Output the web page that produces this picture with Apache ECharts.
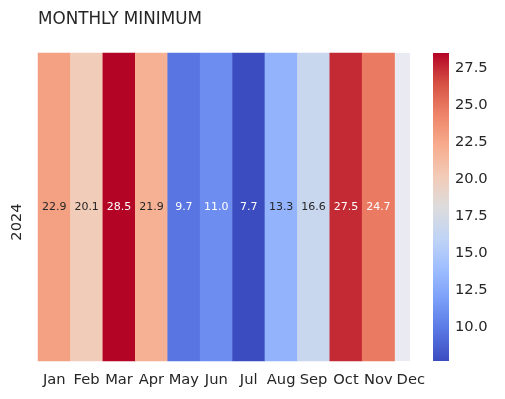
<!DOCTYPE html>
<html><head><meta charset="utf-8">
<script src="https://cdn.jsdelivr.net/npm/echarts@6/dist/echarts.min.js"></script>
<style>html,body{margin:0;padding:0;background:#fff}#c{width:505px;height:399px}</style>
</head><body><div id="c"></div>
<script>
const months = ['Jan','Feb','Mar','Apr','May','Jun','Jul','Aug','Sep','Oct','Nov','Dec'];
const years = ['2024'];
const values = [22.9, 20.1, 28.5, 21.9, 9.7, 11.0, 7.7, 13.3, 16.6, 27.5, 24.7, null];
const vMin = 7.7, vMax = 28.5;
const cbTicks = [10.0, 12.5, 15.0, 17.5, 20.0, 22.5, 25.0, 27.5];
const titleText = 'MONTHLY MINIMUM';

const coolwarm = ['#3b4cc0','#5977e3','#7b9ff9','#9ebeff','#c0d4f5','#dddcdc','#f2cbb7','#f7ac8e','#ee8468','#d65244','#b40426'];
function hex2rgb(h){return [1,3,5].map(i=>parseInt(h.substr(i,2),16));}
function cmap(v){
  let t=(v-vMin)/(vMax-vMin); t=Math.max(0,Math.min(1,t));
  const p=t*(coolwarm.length-1), i=Math.min(Math.floor(p),coolwarm.length-2), f=p-i;
  const a=hex2rgb(coolwarm[i]), b=hex2rgb(coolwarm[i+1]);
  return a.map((x,k)=>x+(b[k]-x)*f);
}
function lum(rgb){
  const c=rgb.map(x=>{x/=255;return x<=0.03928?x/12.92:Math.pow((x+0.055)/1.055,2.4);});
  return 0.2126*c[0]+0.7152*c[1]+0.0722*c[2];
}
const FONT='DejaVu Sans', TXT='#262626';
const data = values.map((v,i)=> v==null ? [i,0,'-'] : {
  value:[i,0,v],
  label:{color: lum(cmap(v))>0.408 ? TXT : '#ffffff'}
});

// colorbar gradient (bottom = min, top = max)
const cbStops = coolwarm.map((c,i)=>({offset:1-i/(coolwarm.length-1),color:c}));

const chart = echarts.init(document.getElementById('c'));
chart.setOption({
  animation:false,
  textStyle:{fontFamily:FONT},
  title:{text:titleText,left:38,top:11,padding:0,textStyle:{fontFamily:FONT,fontSize:16.8,fontWeight:'normal',color:TXT}},
  grid:[
    {left:38,top:53,width:389,height:308,show:true,backgroundColor:'#eaeaf2',borderWidth:0},
    {left:433,top:53,width:16,height:308,show:false}
  ],
  xAxis:[
    {type:'category',gridIndex:0,data:months,axisLine:{show:false},axisTick:{show:false},splitLine:{show:false},
     axisLabel:{fontFamily:FONT,fontSize:14.7,color:TXT,margin:12,interval:0}},
    {type:'value',gridIndex:1,show:false,min:0,max:1}
  ],
  yAxis:[
    {type:'category',gridIndex:0,data:years,axisLine:{show:false},axisTick:{show:false},splitLine:{show:false},
     axisLabel:{fontFamily:FONT,fontSize:14.7,color:TXT,rotate:90,margin:13,padding:[0,30,0,0]}},
    {type:'value',gridIndex:1,min:vMin,max:vMax,position:'right',
     axisLine:{show:false},splitLine:{show:false},
     axisTick:{show:true,length:7,lineStyle:{color:TXT,width:1.3},customValues:cbTicks},
     axisLabel:{fontFamily:FONT,fontSize:14.7,color:TXT,margin:6,customValues:cbTicks,formatter:v=>Number(v).toFixed(1)}}
  ],
  visualMap:{type:'continuous',min:vMin,max:vMax,seriesIndex:0,calculable:false,show:false,
    inRange:{color:coolwarm}},
  graphic:[
    {type:'rect',shape:{x:410,y:50,width:20,height:314},style:{fill:'#ffffff'},z:100},
    {type:'rect',shape:{x:433,y:53,width:16,height:308},style:{fill:{type:'linear',x:0,y:0,x2:0,y2:1,colorStops:cbStops.slice().reverse()}},z:100}
  ],
  series:[{type:'heatmap',xAxisIndex:0,yAxisIndex:0,data:data,
    label:{show:true,fontFamily:FONT,fontSize:11,formatter:p=>Number(p.value[2]).toFixed(1)},
    itemStyle:{borderWidth:0}}]
});
</script></body></html>
